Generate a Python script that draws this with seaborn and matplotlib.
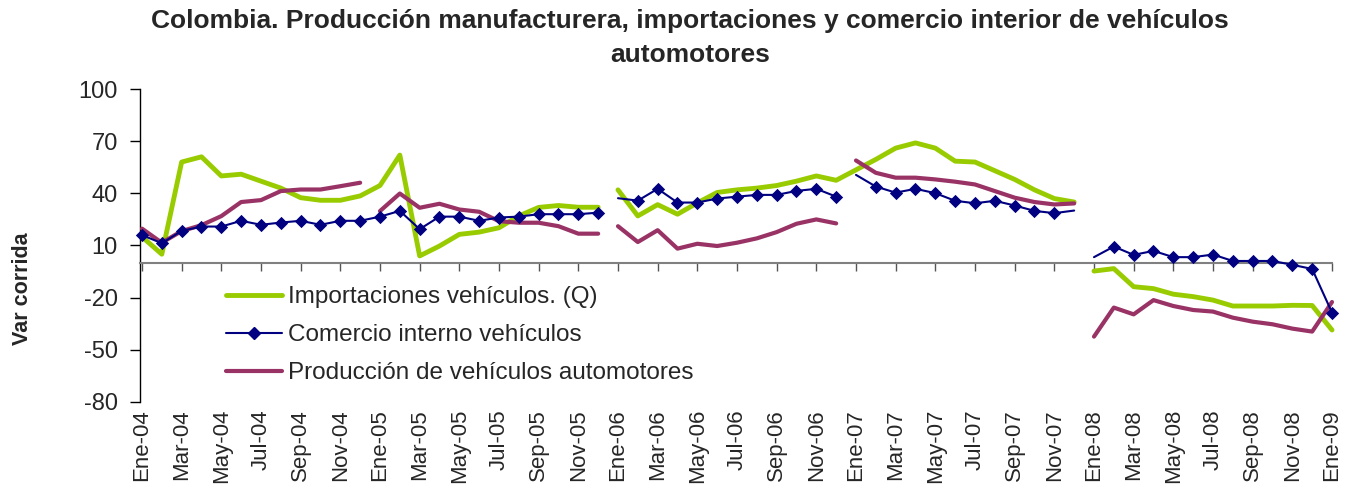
import numpy as np
import pandas as pd
import matplotlib
matplotlib.use('Agg')
import matplotlib.pyplot as plt
from matplotlib.lines import Line2D
import seaborn as sns

meses = ['Ene', 'Feb', 'Mar', 'Abr', 'May', 'Jun', 'Jul', 'Ago', 'Sep', 'Oct', 'Nov', 'Dic']
periodos = [f'{m}-{a:02d}' for a in range(4, 9) for m in meses] + ['Ene-09']

# variacion corrida (%), ene-04 a ene-09
importaciones = [15, 5, 58, 61, 50, 51, 47, 43, 37.5, 36, 36, 38.5,
                 44.5, 62, 4, 9.7, 16.4, 17.7, 20.2, 27, 31.9, 33, 32, 32,
                 42, 27, 33.5, 28, 34.5, 40.5, 42, 43, 44.5, 47, 50, 47.5,
                 53.5, 59.5, 66, 69, 66, 58.5, 58, 53, 48, 42, 37, 35,
                 -4.7, -3.3, -13.7, -14.8, -18, -19.4, -21.4, -24.8, -24.8, -24.8, -24.4, -24.5,
                 -38.6]
comercio = [16, 11.3, 18.4, 20.9, 20.9, 24.2, 21.9, 23.2, 24.2, 21.9, 24.2, 24.2,
            26.6, 29.9, 19.4, 26.6, 26.6, 24.2, 26.1, 26.6, 28, 28, 28, 28.9,
            37.2, 35.8, 42.6, 34.7, 34.7, 37, 38.1, 39.1, 39.1, 41.4, 42.6, 38.1,
            50.6, 43.9, 40.4, 42.6, 40.1, 35.7, 34.3, 35.7, 33, 29.9, 28.6, 30.1,
            3.3, 9.4, 4.6, 6.9, 3.3, 3.3, 4.8, 1.1, 1.1, 1.1, -1.1, -3.5,
            -28.6]
produccion = [19.7, 11.6, 18.3, 21.7, 26.9, 35, 36.1, 41.3, 42.2, 42.2, 44.1, 46.1,
              29.8, 39.9, 31.7, 34, 30.7, 29.4, 24, 23.1, 23.1, 21.1, 16.8, 16.8,
              21.1, 12, 18.8, 8.2, 11, 9.7, 11.6, 14.1, 17.7, 22.5, 25, 22.7,
              58.9, 51.8, 49, 49, 48, 46.7, 45.1, 41.3, 37.5, 35, 33.6, 34.2,
              -42.4, -25.7, -29.6, -21.4, -24.8, -27.1, -28, -31.5, -33.8, -35.3, -37.8, -39.5,
              -22.5]

# tramos de cada serie (la linea se corta entre algunos años)
tramos_imp = [(0, 23), (24, 47), (48, 60)]
tramos_com = [(0, 23), (24, 35), (36, 47), (48, 60)]
tramos_prod = [(0, 11), (12, 23), (24, 35), (36, 47), (48, 60)]
sin_marcador = [24, 36, 47, 48]

verde = '#99CC00'
azul = '#000080'
morado = '#993366'


def armar(valores, tramos):
    filas = []
    for k, (a, b) in enumerate(tramos):
        for i in range(a, b + 1):
            filas.append({'idx': i, 'val': valores[i], 'tramo': k})
    return pd.DataFrame(filas)


df_imp = armar(importaciones, tramos_imp)
df_com = armar(comercio, tramos_com)
df_prod = armar(produccion, tramos_prod)
df_marc = df_com[~df_com.idx.isin(sin_marcador)]

sns.set_style('white')
plt.rcParams['font.family'] = ['Liberation Sans', 'DejaVu Sans']
plt.rcParams['axes.unicode_minus'] = False

fig = plt.figure(figsize=(13.51, 4.92), dpi=100)
ax = fig.add_axes([140/1351, 1-402/492, (1332-140)/1351, (402-89)/492])

sns.lineplot(data=df_imp, x='idx', y='val', units='tramo', estimator=None, sort=False,
             color=verde, lw=3.5, ax=ax, legend=False, zorder=2, clip_on=False)
sns.lineplot(data=df_prod, x='idx', y='val', units='tramo', estimator=None, sort=False,
             color=morado, lw=3, ax=ax, legend=False, zorder=3, clip_on=False)
sns.lineplot(data=df_com, x='idx', y='val', units='tramo', estimator=None, sort=False,
             color=azul, lw=1.5, ax=ax, legend=False, zorder=4, clip_on=False)
sns.scatterplot(data=df_marc, x='idx', y='val', marker='D', s=46, color=azul,
                linewidth=0, ax=ax, legend=False, zorder=5, clip_on=False)

ax.set_xlim(-0.1, 60)
ax.set_ylim(-80, 100)
ax.set_yticks([-80, -50, -20, 10, 40, 70, 100])
ax.tick_params(axis='y', direction='out', length=7, width=1, color='black',
               labelsize=17, pad=9, left=True)
ax.set_xlabel('')
ax.set_ylabel('')

for s in ['top', 'right']:
    ax.spines[s].set_visible(False)
ax.spines['left'].set_color('black')
ax.spines['left'].set_linewidth(1)
ax.spines['bottom'].set_position(('data', 0))
ax.spines['bottom'].set_color('#808080')
ax.spines['bottom'].set_linewidth(1.5)
posiciones = list(range(0, 61, 2))
ax.set_xticks(posiciones)
ax.tick_params(axis='x', direction='out', length=6, width=1, color='#555555',
               labelbottom=False, bottom=True)

sec = ax.secondary_xaxis('bottom')
sec.set_xticks(posiciones, labels=periodos[::2])
sec.tick_params(length=0, pad=5, labelsize=16, labelrotation=90)
sec.spines['bottom'].set_visible(False)

fig.text(690/1351, 1-9/492,
         'Colombia. Producción manufacturera, importaciones y comercio interior de vehículos\nautomotores',
         ha='center', va='top', fontsize=19, fontweight='bold', linespacing=1.5)
fig.text(23/1351, 1-289/492, 'Var corrida', rotation=90, ha='center', va='center',
         fontsize=15.5, fontweight='bold')

manijas = [Line2D([], [], color=verde, lw=3.5),
           Line2D([], [], color=azul, lw=1.5, marker='D', ms=6),
           Line2D([], [], color=morado, lw=3)]
etiquetas = ['Importaciones vehículos. (Q)', 'Comercio interno vehículos',
             'Producción de vehículos automotores']
fig.legend(manijas, etiquetas, loc='upper left', bbox_to_anchor=(226/1351, 1-286/492),
           frameon=False, fontsize=17.5, handlelength=2.3, handletextpad=0.25,
           labelspacing=0.66, borderpad=0, borderaxespad=0)

fig.savefig('out.png', dpi=100)
